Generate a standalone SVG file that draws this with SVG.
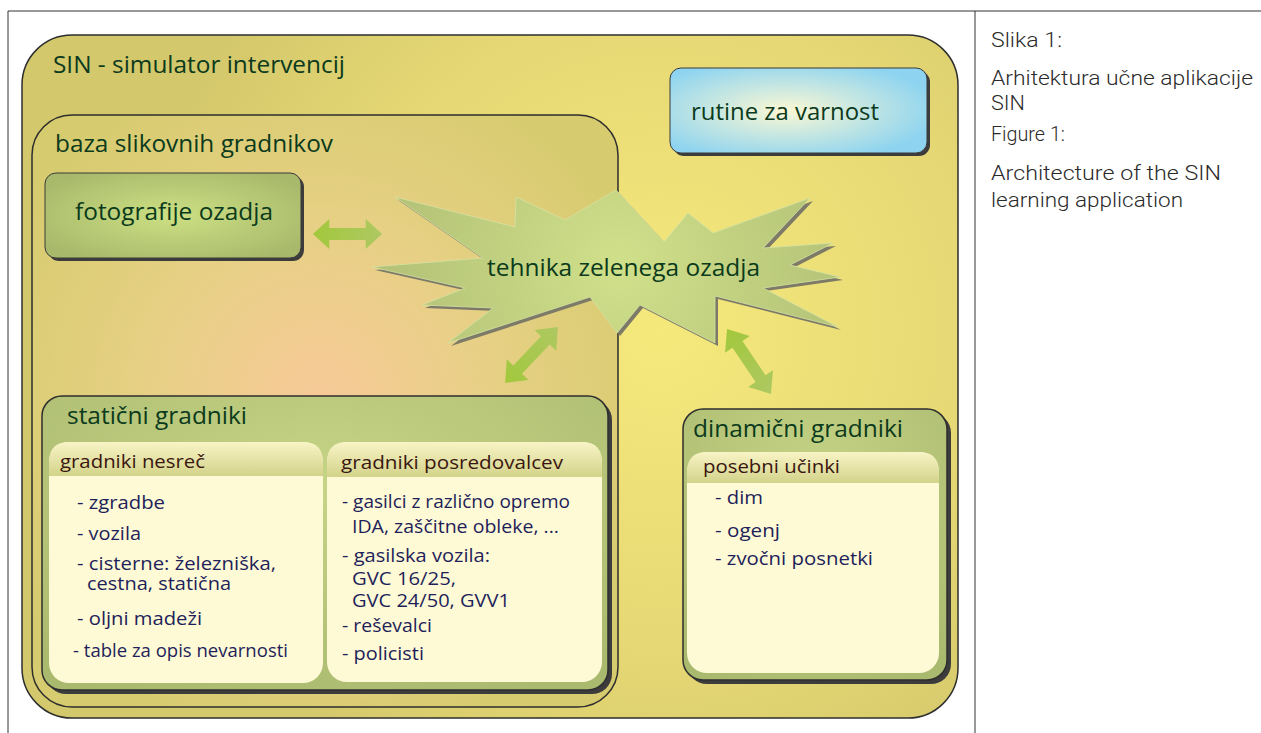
<svg xmlns="http://www.w3.org/2000/svg" width="1261" height="733" viewBox="0 0 1261 733">
<defs>
<style>
.h{font-family:"Open Sans","Noto Sans",sans-serif;font-size:23px;fill:#0b3a1c}
.ph{font-family:"Open Sans","Noto Sans",sans-serif;font-size:19px;fill:#3a1610}
.it{font-family:"Open Sans","Noto Sans",sans-serif;font-size:18px;fill:#1f1f5a}
.cap{font-family:"Roboto","DejaVu Sans",sans-serif;font-size:20px;font-weight:300;fill:#2a2a2a}
.frame{stroke:#333;stroke-width:1;fill:none}
.box{stroke:#2e2e2e;stroke-width:1.5}
.shadow{fill:#3c3c3c}
.body{fill:#fefad6}
.arr{fill:url(#arrG)}
</style>
<radialGradient id="outerG" cx="660" cy="330" r="520" gradientUnits="userSpaceOnUse">
<stop offset="0" stop-color="#f5e97c"/>
<stop offset="0.6" stop-color="#e6d874"/>
<stop offset="1" stop-color="#d4c86c"/>
</radialGradient>
<radialGradient id="bazaG" cx="320" cy="400" r="360" gradientUnits="userSpaceOnUse">
<stop offset="0" stop-color="#f7ca98"/>
<stop offset="0.5" stop-color="#e6d084"/>
<stop offset="1" stop-color="#d6cb6e"/>
</radialGradient>
<radialGradient id="fotoG" cx="0.5" cy="0.5" r="0.6">
<stop offset="0" stop-color="#cde083"/>
<stop offset="1" stop-color="#a9b96c"/>
</radialGradient>
<radialGradient id="rutG" cx="0.45" cy="0.5" r="0.6">
<stop offset="0" stop-color="#fbf8d4"/>
<stop offset="1" stop-color="#8ed4f0"/>
</radialGradient>
<radialGradient id="starG" cx="620" cy="265" r="240" gradientUnits="userSpaceOnUse">
<stop offset="0" stop-color="#d0e08a"/>
<stop offset="1" stop-color="#b2c176"/>
</radialGradient>
<radialGradient id="grpG" cx="0.5" cy="0.3" r="0.8">
<stop offset="0" stop-color="#c6d486"/>
<stop offset="1" stop-color="#a9b96e"/>
</radialGradient>
<linearGradient id="hdrG" x1="0" y1="0" x2="0" y2="1">
<stop offset="0" stop-color="#f8f4c6"/>
<stop offset="1" stop-color="#d3d38a"/>
</linearGradient>
<linearGradient id="arrG" x1="0" y1="0" x2="1" y2="0">
<stop offset="0" stop-color="#a2c83c"/>
<stop offset="1" stop-color="#aec862"/>
</linearGradient>
<path id="dbl" d="M-38,0 L-20,-15 L-20,-6 L20,-6 L20,-15 L38,0 L20,15 L20,6 L-20,6 L-20,15 Z"/>
</defs>

<g id="frame">
<line class="frame" x1="8" y1="11" x2="1261" y2="11"/>
<line class="frame" x1="8" y1="11" x2="8" y2="733"/>
<line class="frame" x1="975" y1="11" x2="975" y2="733"/>
</g>

<g id="sin">
<rect x="22" y="35" width="936" height="683" rx="50" fill="url(#outerG)" class="box"/>
<text class="h" x="53" y="73" textLength="292" lengthAdjust="spacingAndGlyphs">SIN - simulator intervencij</text>
</g>

<g id="baza">
<rect x="32" y="115" width="586" height="592" rx="40" fill="url(#bazaG)" class="box"/>
<text class="h" x="55" y="152" textLength="278" lengthAdjust="spacingAndGlyphs">baza slikovnih gradnikov</text>
</g>

<g id="fotografije">
<rect x="48" y="176" width="256" height="85" rx="11" class="shadow"/>
<rect x="45" y="173" width="256" height="85" rx="11" fill="url(#fotoG)" stroke="#3a3a3a" stroke-width="1"/>
<text class="h" x="75" y="220" textLength="198" lengthAdjust="spacingAndGlyphs">fotografije ozadja</text>
</g>

<g id="rutine">
<rect x="673" y="71" width="257" height="85" rx="11" class="shadow"/>
<rect x="670" y="68" width="257" height="85" rx="11" fill="url(#rutG)" stroke="#3a3a3a" stroke-width="1"/>
<text class="h" x="691" y="120" textLength="188" lengthAdjust="spacingAndGlyphs">rutine za varnost</text>
</g>

<g id="tehnika">
<polygon transform="translate(3,3)" fill="#7d7b68" points="372,267 483,258 395,197 515,227 516,197 565,220 616,190 664,242 688,213 713,233 810,198 763,248 833,243 790,265 840,277 763,288 838,327 715,296 715,343 640,305 617,333 590,297 448,343 493,308 422,305 465,288"/>
<polygon fill="url(#starG)" stroke="#d6e2a2" stroke-width="0.8" points="372,267 483,258 395,197 515,227 516,197 565,220 616,190 664,242 688,213 713,233 810,198 763,248 833,243 790,265 840,277 763,288 838,327 715,296 715,343 640,305 617,333 590,297 448,343 493,308 422,305 465,288"/>
<text class="h" x="487" y="276" textLength="273" lengthAdjust="spacingAndGlyphs">tehnika zelenega ozadja</text>
</g>

<g id="staticni">
<rect x="46" y="400" width="566" height="294" rx="20" class="shadow"/>
<rect x="42" y="396" width="566" height="294" rx="20" fill="url(#grpG)" class="box"/>
<text class="h" x="67" y="424" textLength="180" lengthAdjust="spacingAndGlyphs">statični gradniki</text>
</g>

<g id="nesrec">
<rect x="49" y="442" width="274" height="241" rx="20" class="body"/>
<path d="M49,476 V462 Q49,442 69,442 H303 Q323,442 323,462 V476 Z" fill="url(#hdrG)"/>
<text class="ph" x="60" y="468" textLength="145" lengthAdjust="spacingAndGlyphs">gradniki nesreč</text>
<text class="it" x="77" y="509" textLength="88" lengthAdjust="spacingAndGlyphs">- zgradbe</text>
<text class="it" x="77" y="540" textLength="64" lengthAdjust="spacingAndGlyphs">- vozila</text>
<text class="it" x="77" y="570" textLength="199" lengthAdjust="spacingAndGlyphs">- cisterne: železniška,</text>
<text class="it" x="87" y="590" textLength="144" lengthAdjust="spacingAndGlyphs">cestna, statična</text>
<text class="it" x="77" y="625" textLength="125" lengthAdjust="spacingAndGlyphs">- oljni madeži</text>
<text class="it" x="73" y="657" textLength="215" lengthAdjust="spacingAndGlyphs">- table za opis nevarnosti</text>
</g>

<g id="posredovalcev">
<rect x="327" y="442" width="275" height="240" rx="20" class="body"/>
<path d="M327,477 V462 Q327,442 347,442 H582 Q602,442 602,462 V477 Z" fill="url(#hdrG)"/>
<text class="ph" x="341" y="469" textLength="222" lengthAdjust="spacingAndGlyphs">gradniki posredovalcev</text>
<text class="it" x="342" y="508" textLength="228" lengthAdjust="spacingAndGlyphs">- gasilci z različno opremo</text>
<text class="it" x="352" y="533" textLength="207" lengthAdjust="spacingAndGlyphs">IDA, zaščitne obleke, ...</text>
<text class="it" x="342" y="562" textLength="148" lengthAdjust="spacingAndGlyphs">- gasilska vozila:</text>
<text class="it" x="352" y="585" textLength="104" lengthAdjust="spacingAndGlyphs">GVC 16/25,</text>
<text class="it" x="352" y="607" textLength="158" lengthAdjust="spacingAndGlyphs">GVC 24/50, GVV1</text>
<text class="it" x="342" y="632" textLength="90" lengthAdjust="spacingAndGlyphs">- reševalci</text>
<text class="it" x="342" y="660" textLength="82" lengthAdjust="spacingAndGlyphs">- policisti</text>
</g>

<g id="dinamicni">
<rect x="687" y="413" width="264" height="271" rx="20" class="shadow"/>
<rect x="683" y="409" width="264" height="271" rx="20" fill="url(#grpG)" class="box"/>
<text class="h" x="693" y="437" textLength="210" lengthAdjust="spacingAndGlyphs">dinamični gradniki</text>
</g>

<g id="ucinki">
<rect x="687" y="452" width="252" height="221" rx="20" class="body"/>
<path d="M687,483 V472 Q687,452 707,452 H919 Q939,452 939,472 V483 Z" fill="url(#hdrG)"/>
<text class="ph" x="703" y="473" textLength="137" lengthAdjust="spacingAndGlyphs">posebni učinki</text>
<text class="it" x="715" y="504" textLength="48" lengthAdjust="spacingAndGlyphs">- dim</text>
<text class="it" x="715" y="537" textLength="65" lengthAdjust="spacingAndGlyphs">- ogenj</text>
<text class="it" x="715" y="565" textLength="158" lengthAdjust="spacingAndGlyphs">- zvočni posnetki</text>
</g>

<g id="connectors">
<use href="#dbl" class="arr" transform="translate(347.5,234) scale(0.91,1)"/>
<use href="#dbl" class="arr" transform="translate(531.5,355) rotate(-46.6) scale(1.01,1)"/>
<use href="#dbl" class="arr" transform="translate(749,361.5) rotate(55.9) scale(1.03,1)"/>
</g>

<g id="caption">
<text class="cap" x="991" y="47" textLength="71" lengthAdjust="spacingAndGlyphs">Slika 1:</text>
<text class="cap" x="991" y="85" textLength="262" lengthAdjust="spacingAndGlyphs">Arhitektura učne aplikacije</text>
<text class="cap" x="991" y="110" textLength="34" lengthAdjust="spacingAndGlyphs">SIN</text>
<text class="cap" x="991" y="141" textLength="74" lengthAdjust="spacingAndGlyphs">Figure 1:</text>
<text class="cap" x="991" y="180" textLength="230" lengthAdjust="spacingAndGlyphs">Architecture of the SIN</text>
<text class="cap" x="991" y="207" textLength="192" lengthAdjust="spacingAndGlyphs">learning application</text>
</g>
</svg>
